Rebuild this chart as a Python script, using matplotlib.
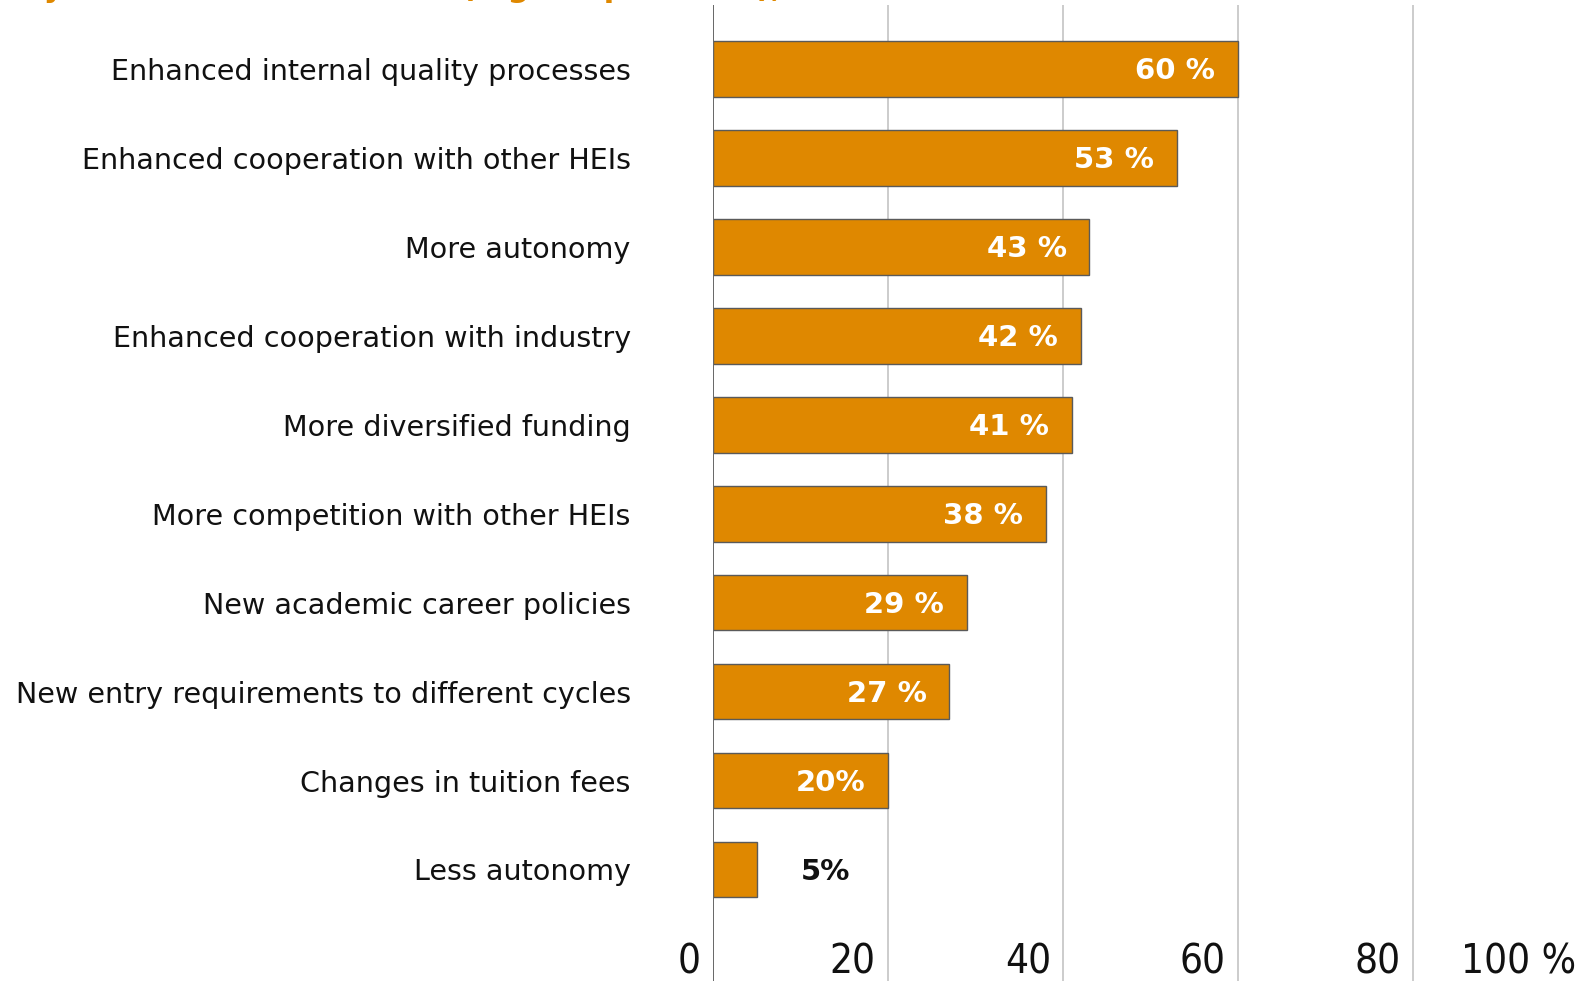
import matplotlib.pyplot as plt

# Share of institutions rating each development as highly important
categories = [
    "Enhanced internal quality processes",
    "Enhanced cooperation with other HEIs",
    "More autonomy",
    "Enhanced cooperation with industry",
    "More diversified funding",
    "More competition with other HEIs",
    "New academic career policies",
    "New entry requirements to different cycles",
    "Changes in tuition fees",
    "Less autonomy",
]
values = [60, 53, 43, 42, 41, 38, 29, 27, 20, 5]
value_labels = ["60 %", "53 %", "43 %", "42 %", "41 %", "38 %", "29 %", "27 %", "20%", "5%"]
x_ticks = [0, 20, 40, 60, 80, 100]
x_tick_labels = ["0", "20", "40", "60", "80", "100 %"]

bar_color = "#df8800"
label_font = ["DejaVu Sans"]
tick_font = ["Liberation Sans Narrow", "DejaVu Sans"]

fig = plt.figure(figsize=(15.86, 9.81), dpi=100)
ax = fig.add_axes([0.4496, 0.0, 0.5517, 0.9949])

y = list(range(len(categories)))
ax.barh(y, values, height=0.625, color=bar_color, edgecolor="#5a5a5a", linewidth=1.0, zorder=3)

ax.set_xlim(0, 100)
ax.set_ylim(len(categories) - 1 + 1.255, -0.723)

# vertical gridlines and the zero axis
for t in x_ticks[1:]:
    ax.axvline(t, color="#c4c4c4", linewidth=1.2, zorder=1)
ax.axvline(0, color="#666666", linewidth=1.4, zorder=4)

for s in ax.spines.values():
    s.set_visible(False)
ax.set_xticks([])
ax.set_yticks([])

# category names to the left of the axis
for yi, name in zip(y, categories):
    ax.text(-9.4, yi, name, ha="right", va="center_baseline", fontsize=20.6,
            family=label_font, color="#111111", clip_on=False)

# value labels: white inside the bar, black outside for short bars
for yi, v, lab in zip(y, values, value_labels):
    if v >= 15:
        ax.text(v - 2.6, yi - 0.01, lab, ha="right", va="center_baseline", fontsize=21,
                fontweight="bold", family=label_font, color="white", zorder=5)
    else:
        ax.text(v + 5.0, yi - 0.01, lab, ha="left", va="center_baseline", fontsize=21,
                fontweight="bold", family=label_font, color="#111111", zorder=5)

# axis numbers sit just left of their gridline near the bottom
for t, lab in zip(x_ticks, x_tick_labels):
    ax.text(t - 1.4, len(categories) - 1 + 1.05, lab, ha="right", va="center",
            fontsize=29, family=tick_font, fontstretch="condensed",
            color="#111111", clip_on=False)

fig.text(0.0, 1.003, "Key results of the reforms (high importance),", ha="left", va="baseline",
         fontsize=22, fontweight="bold", family=label_font, color=bar_color)

fig.savefig("out.png", dpi=100)
